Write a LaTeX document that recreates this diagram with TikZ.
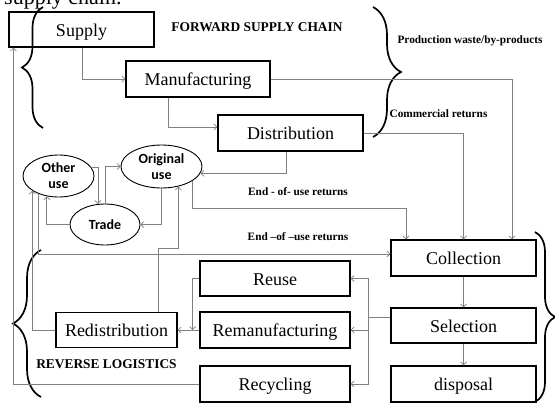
\documentclass[tikz,border=0pt]{standalone}
\usepackage{fontspec}
\setmainfont{Liberation Serif}
\newfontfamily\carlito{Carlito}
\usetikzlibrary{shapes.geometric,arrows.meta,decorations.pathreplacing,calc}
\begin{document}
\begin{tikzpicture}[x=1pt,y=-1pt,
  box/.style={draw, line width=1.1pt, rectangle, inner sep=0pt, text height=15pt, text depth=2pt, font=\fontsize{18}{20}\selectfont},
  oval/.style={draw, ellipse, line width=0.9pt, inner sep=0pt, align=center, font=\carlito\bfseries\fontsize{14}{16}\selectfont},
  conn/.style={draw=black!50, line width=0.7pt},
  arr/.style={conn, -{Straight Barb[length=3pt,width=6pt]}},
  caps/.style={font=\bfseries\fontsize{13.4}{15}\selectfont, inner sep=0pt},
  lbl/.style={font=\bfseries\fontsize{11.3}{13}\selectfont, inner sep=0pt},
  brc/.style={decorate, decoration={brace, amplitude=#1}, line width=1.7pt}]
\useasboundingbox (0,0) rectangle (555,405);
\clip (0,0) rectangle (555,405);
\node[anchor=base west, font=\fontsize{22}{24}\selectfont, inner sep=0pt] (cap) at (4,4.5) {supply chain.};
% boxes
\node[box, minimum width=145pt, minimum height=35pt] (supply) at (81.5,29.5) {Supply};
\node[box, minimum width=144pt, minimum height=36pt] (manuf) at (198,79) {Manufacturing};
\node[box, minimum width=145pt, minimum height=36pt] (dist) at (290.5,133) {Distribution};
\node[box, minimum width=145pt, minimum height=36pt] (coll) at (463.5,258) {Collection};
\node[box, minimum width=145pt, minimum height=35pt] (sel) at (463.5,325.5) {Selection};
\node[box, minimum width=145pt, minimum height=36pt] (disp) at (463.5,384) {disposal};
\node[box, minimum width=150pt, minimum height=35pt] (reuse) at (275,278.5) {Reuse};
\node[box, minimum width=150pt, minimum height=36pt] (reman) at (275,330) {Remanufacturing};
\node[box, minimum width=150pt, minimum height=36pt] (recyc) at (275,384) {Recycling};
\node[box, minimum width=121pt, minimum height=35pt] (redis) at (116.5,330) {Redistribution};
% ellipses
\node[oval, minimum width=71pt, minimum height=42pt] (other) at (58.5,176) {Other\\use};
\node[oval, minimum width=81pt, minimum height=43pt] (orig) at (161.5,166.5) {Original\\use};
\node[oval, minimum width=70pt, minimum height=41pt] (trade) at (105,224.5) {Trade};
% labels
\node[caps] (fsc) at (257,27.5) {FORWARD SUPPLY CHAIN};
\node[lbl] (pw) at (470,41) {Production waste/by-products};
\node[lbl] (cr) at (438.5,114) {Commercial returns};
\node[lbl] (eu1) at (298,192) {End - of- use returns};
\node[lbl] (eu2) at (298,237) {End –of –use returns};
\node[caps] (rl) at (106.5,364.5) {REVERSE LOGISTICS};
% braces
\draw[brc=21pt] (43,128) -- (43,7);
\draw[brc=28pt] (373,7) -- (373,137);
\draw[brc=20pt] (535,232) -- (535,402);
\draw[brc=28pt] (41,397) -- (41,250);
% connectors
\draw[arr] ([xshift=0.5pt]supply.south) |- (manuf.west);
\draw[arr] ([xshift=-30pt]manuf.south) |- ([yshift=6pt]dist.west);
\draw[arr] (manuf.east) -| ([xshift=48.5pt]coll.north);
\draw[arr] (dist.east) -| (coll.north);
\draw[arr] ([xshift=-4.5pt]dist.south) |- (orig.-10);
\draw[arr] (orig.335) -- (orig.335 |- 0,208) -| ([xshift=-57.5pt]coll.north);
\draw[arr] (trade.north) |- (orig.west);
\draw[arr] (other.15) -| (trade.109);
\draw[arr] (orig.south) |- (trade.east);
\draw[arr] (trade.west) -| (other.240);
\draw[arr] (redis.west) -| (other.209);
\draw[arr] (other.222) |- ([yshift=4pt]coll.west);
\draw[arr] ([xshift=41.5pt]redis.north) -- ++(0,-64) -| (orig.310);
\draw[arr] (coll.south) -- (sel.north);
\draw[arr] (sel.south) -- (disp.north);
\coordinate (sj) at (368,317);
\draw[conn] ([yshift=8.5pt]sel.west) -- (sj);
\draw[arr] (sj) |- (reuse.east);
\draw[arr] (sj) |- (reman.east);
\draw[arr] (sj) |- (recyc.east);
\draw[arr] (reuse.west) -| ([xshift=15pt]redis.east);
\draw[arr] (reman.west) -- (redis.east);
\draw[arr] (recyc.west) -| ([xshift=5pt]supply.south west);
\end{tikzpicture}
\end{document}
